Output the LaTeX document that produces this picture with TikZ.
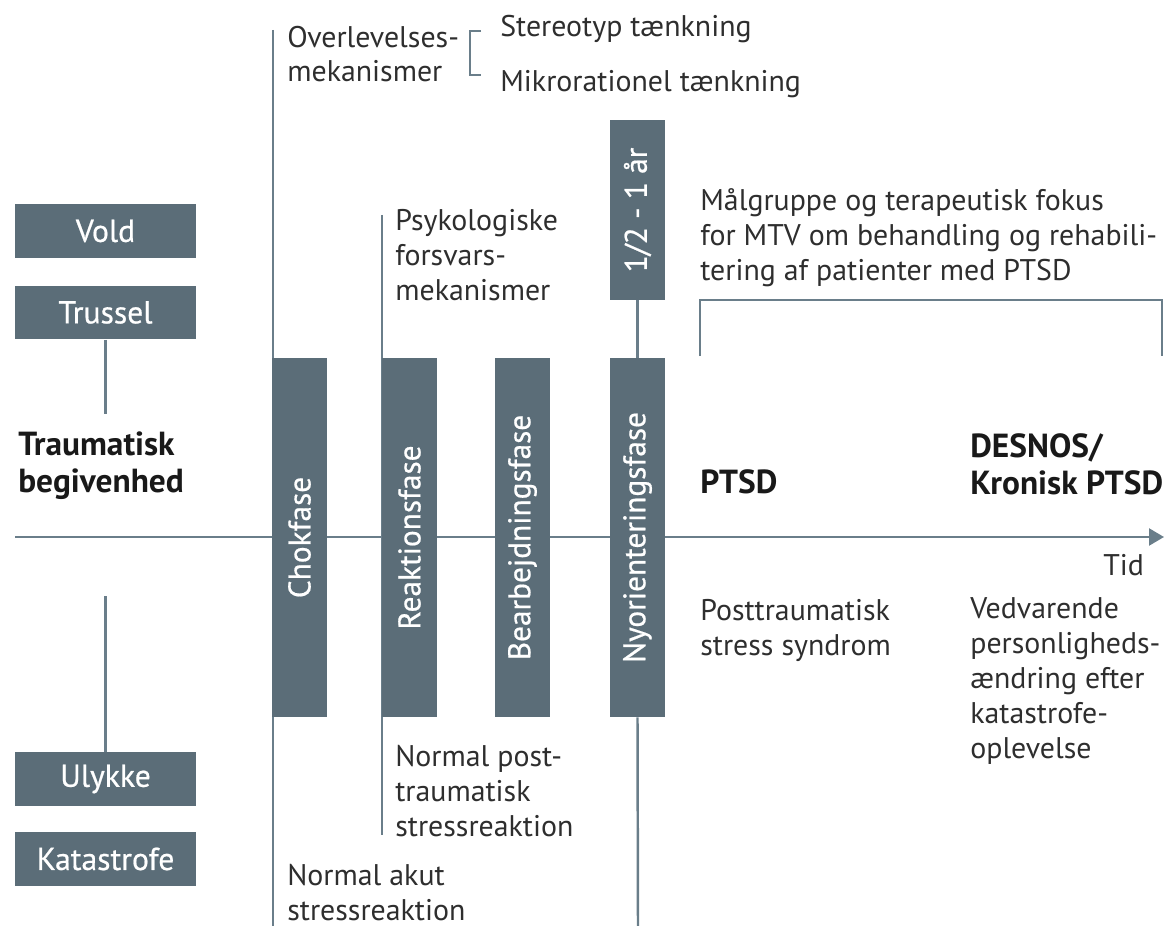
\documentclass[tikz,border=0pt]{standalone}
\usepackage{fontspec}
\setmainfont{PT Sans}
\newfontfamily\boxfont[FakeBold=0.6]{PT Sans}
\usetikzlibrary{arrows.meta}
\definecolor{slate}{HTML}{5B6D78}
\definecolor{slateline}{HTML}{6A7E8A}
\definecolor{txt}{HTML}{2E2E2E}
\begin{document}
\begin{tikzpicture}[x=0.02cm,y=-0.02cm,
  every node/.style={font=\fontsize{17}{19.9}\selectfont, text=txt},
  lbl/.style={anchor=base west, inner sep=0pt, align=left},
  blbl/.style={lbl, font=\fontsize{19}{21}\selectfont\bfseries, text=black!90},
  evbox/.style={fill=slate, text=white, font=\fontsize{18}{20}\selectfont\boxfont, minimum width=3.62cm, minimum height=1.08cm, inner sep=0pt},
  phase/.style={fill=slate, text=white, font=\fontsize{17.8}{20}\selectfont\boxfont, rotate=90, minimum width=7.18cm, minimum height=1.1cm, inner sep=0pt},
  conn/.style={draw=slateline, line width=1.4pt}]
\useasboundingbox (0,0) rectangle (1164,926);

% coordinates for free ends
\coordinate (chTop) at (273,30);
\coordinate (chBot) at (273,926);
\coordinate (reTop) at (382,215);
\coordinate (reBot) at (382,835);
\coordinate (nyBot) at (638,926);
\coordinate (axL) at (15,537);
\coordinate (axR) at (1164,537);
\coordinate (trEnd) at (105.5,414);
\coordinate (ulEnd) at (105.5,596);

% lines behind boxes
\draw[conn] (chTop) -- (chBot);
\draw[conn] (reTop) -- (reBot);
\draw[conn, -{Triangle[length=0.3cm,width=0.34cm]}] (axL) -- (axR);

% event boxes
\node[evbox] (vold) at (105.5,231) {Vold};
\node[evbox] (trussel) at (105.5,312.5) {Trussel};
\node[evbox] (ulykke) at (105.5,779) {Ulykke};
\node[evbox] (katastrofe) at (105.5,859) {Katastrofe};
\draw[conn] (trussel.south) -- (trEnd);
\draw[conn] (ulykke.north) -- (ulEnd);

% phase boxes
\node[phase] (chok) at (299.5,537.5) {Chokfase};
\node[phase] (reak) at (409.5,537.5) {Reaktionsfase};
\node[phase] (bear) at (522.5,537.5) {Bearbejdningsfase};
\node[phase] (nyo) at (637.5,537.5) {Nyorienteringsfase};
\node[phase, minimum width=3.6cm] (halv) at (637.5,210) {1/2 - 1 år};
\draw[conn] (halv.west) -- (nyo.east);
\draw[conn] (nyo.west) -- (nyBot);

% top texts
\node[lbl] (overl) at (287,82) {Overlevelses-\\mekanismer};
\coordinate (brA) at (481,31);
\coordinate (brB) at (470,31);
\coordinate (brC) at (470,75);
\coordinate (brD) at (481,75);
\draw[conn] (brA) -- (brB) -- (brC) -- (brD);
\node[lbl] (stereo) at (500,37) {Stereotyp tænkning};
\node[lbl] (mikro) at (500,92) {Mikrorationel tænkning};

\node[lbl] (psyk) at (395,300) {Psykologiske\\forsvars-\\mekanismer};
\node[lbl] (maal) at (700,280) {Målgruppe og terapeutisk fokus\\for MTV om behandling og rehabili-\\tering af patienter med PTSD};
\coordinate (mbA) at (700,356);
\coordinate (mbB) at (700,300);
\coordinate (mbC) at (1162,300);
\coordinate (mbD) at (1162,356);
\draw[conn] (mbA) -- (mbB) -- (mbC) -- (mbD);

% bold labels
\node[blbl] (traum) at (18,492) {Traumatisk\\begivenhed};
\node[blbl] (ptsd) at (700,493) {PTSD};
\node[blbl] (desnos) at (970,494) {DESNOS/\\Kronisk PTSD};

\node[lbl] (tid) at (1103,575) {Tid};

% lower texts
\node[lbl] (post) at (700,655) {Posttraumatisk\\stress syndrom};
\node[lbl] (vedv) at (970,758) {Vedvarende\\personligheds-\\ændring efter\\katastrofe-\\oplevelse};
\node[lbl] (npost) at (395,836) {Normal post-\\traumatisk\\stressreaktion};
\node[lbl] (nakut) at (287,920) {Normal akut\\stressreaktion};
\end{tikzpicture}
\end{document}
